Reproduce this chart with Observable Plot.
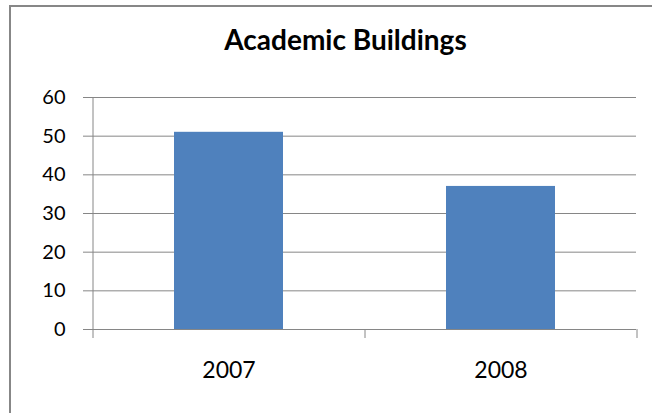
<!DOCTYPE html>
<html>
<head>
<meta charset="utf-8">
<script src="https://cdn.jsdelivr.net/npm/d3@7"></script>
<script src="https://cdn.jsdelivr.net/npm/@observablehq/plot@0.6"></script>
<style>
  html, body { margin: 0; padding: 0; background: #fff; }
  #wrap { position: relative; width: 652px; height: 413px; overflow: hidden; background: #fff; }
  #frame { position: absolute; left: 9px; top: 5px; width: 700px; height: 500px; border: 2px solid #878787; box-sizing: border-box; }
  #title { position: absolute; left: 0; top: 25px; width: 691px; text-align: center; font-family: Lato, "Open Sans", sans-serif; font-weight: bold; font-size: 28px; line-height: 28px; color: #000; }
  #chart { position: absolute; left: 0; top: 0; }
</style>
</head>
<body>
<div id="wrap">
  <div id="frame"></div>
  <div id="chart"></div>
  <div id="title">Academic Buildings</div>
</div>
<script>
const years = ["2007", "2008"];
const values = [51, 37];
const yTicks = [0, 10, 20, 30, 40, 50, 60];
const titleText = "Academic Buildings";

document.getElementById("title").textContent = titleText;

const data = years.map((y, i) => ({year: y, value: values[i]}));

const W = 652, H = 413;
const mL = 92, mR = 16, mT = 97, mB = 84;
const half = (W - mL - mR) / years.length / 2;
const tickLen = 9;
const gray = "#868686";

const chart = Plot.plot({
  width: W,
  height: H,
  marginLeft: mL,
  marginRight: mR,
  marginTop: mT,
  marginBottom: mB,
  style: {fontFamily: "Lato, 'Open Sans', sans-serif", background: "transparent", color: "#000"},
  x: {type: "band", domain: years, paddingInner: 0.6, paddingOuter: 0.3, axis: null},
  y: {domain: [0, 60], axis: null},
  marks: [
    Plot.ruleY(yTicks, {y: d => d, stroke: gray, strokeOpacity: 1}),
    Plot.axisY({ticks: yTicks, tickSize: tickLen, tickPadding: 18, stroke: gray, strokeOpacity: 1, fontSize: 20, tickFormat: d => String(d), fill: "#000", label: null}),
    Plot.ruleX(years.slice(0, 1), {x: d => d, dx: -half, y1: 0, y2: 60, stroke: gray, strokeOpacity: 1}),
    Plot.ruleX(years, {x: d => d, dx: -half, y1: 0, y2: 0, insetBottom: -tickLen, stroke: gray, strokeOpacity: 1}),
    Plot.ruleX(years.slice(-1), {x: d => d, dx: half, y1: 0, y2: 0, insetBottom: -tickLen, stroke: gray, strokeOpacity: 1}),
    Plot.barY(data, {x: "year", y: "value", fill: "#4F81BD"}),
    Plot.axisX({tickSize: 0, tickPadding: 32, fontSize: 23, fill: "#000", label: null})
  ]
});
document.getElementById("chart").appendChild(chart);
</script>
</body>
</html>
